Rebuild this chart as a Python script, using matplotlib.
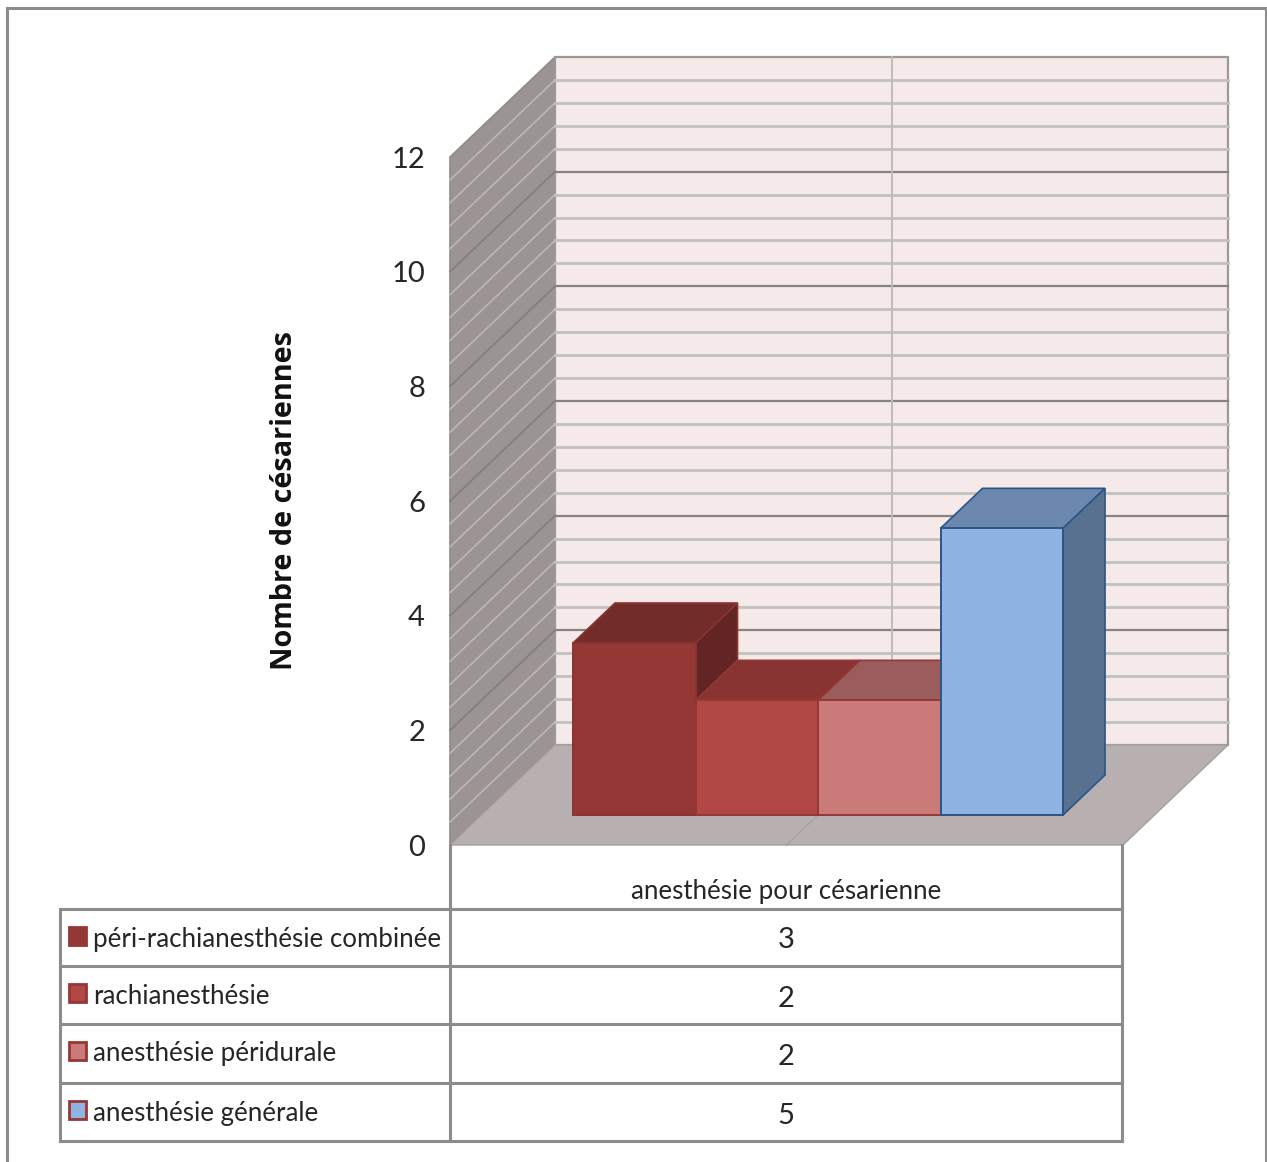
"""
Cesarean anaesthesia counts as a 3D-style clustered column with a data table.
"""

import matplotlib
matplotlib.use("Agg")
import matplotlib.pyplot as plt
from matplotlib.patches import Polygon, Rectangle

SERIES = ["péri-rachianesthésie combinée", "rachianesthésie",
          "anesthésie péridurale", "anesthésie générale"]
VALUES = [3, 2, 2, 5]
CATEGORY = "anesthésie pour césarienne"
Y_LABEL = "Nombre de césariennes"
Y_TICKS = [0, 2, 4, 6, 8, 10, 12]

FRONT = ["#953735", "#B14846", "#CA7A79", "#8FB3E3"]
TOP = ["#722C2A", "#883432", "#9B5D5C", "#6C88AE"]
SIDE = ["#632523", "#7A2E2C", "#8F5453", "#587191"]
EDGE = ["#8A3331", "#953735", "#953735", "#2A5587"]

W, H = 1267, 1162
TEXT = "#262626"
LINE = "#8C8C8C"
FONT = ["Lato", "DejaVu Sans"]
LABEL_SIZE = 18.6
DIGIT_SIZE = 21

# oblique projection: one depth unit moves right and up on the page
DEPTH_X = 105 / 122.5
DEPTH_Y = 100 / 57.33
FLOOR_W = 673 / 122.5
NEAR, FAR = 0.3, 0.7
BAR_W = 1.0


def project(x, y, d):
    return x + d * DEPTH_X, y + d * DEPTH_Y


def face(ax, pts, color, edge, lw, z):
    ax.add_patch(Polygon([project(*p) for p in pts], closed=True, facecolor=color,
                         edgecolor=edge, linewidth=lw, zorder=z,
                         joinstyle="miter", clip_on=False))


def draw_walls(ax):
    top = 12
    face(ax, [(0, 0, 0), (0, top, 0), (0, top, 1), (0, 0, 1)], "#9B9493", "#8C8C88", 1.2, 1)
    face(ax, [(0, 0, 1), (0, top, 1), (FLOOR_W, top, 1), (FLOOR_W, 0, 1)],
         "#F5E9E9", "#9A9A96", 1.6, 1)
    face(ax, [(0, 0, 0), (0, 0, 1), (FLOOR_W, 0, 1), (FLOOR_W, 0, 0)], "#B8B0B0", "#A5A09E", 1.0, 1)

    # five minor divisions per labelled step, on both walls
    for i in range(1, 30):
        y = i * 0.4
        major = i % 5 == 0
        x0, y0 = project(0, y, 0)
        x1, y1 = project(0, y, 1)
        x2, y2 = project(FLOOR_W, y, 1)
        ax.plot([x0, x1], [y0, y1], color="#7E807C" if major else "#B9B8B5",
                lw=1.2, zorder=2, clip_on=False)
        ax.plot([x1, x2], [y1, y2], color="#85847F" if major else "#C2C1BC",
                lw=1.6 if major else 2.0, zorder=2, clip_on=False)

    # category divider across the floor and up the back wall
    mid = FLOOR_W / 2
    x0, y0 = project(mid, 0, 0)
    x1, y1 = project(mid, 0, 1)
    x2, y2 = project(mid, 12, 1)
    ax.plot([x0, x1], [y0, y1], color="#A8A5A3", lw=1.2, zorder=2, clip_on=False)
    ax.plot([x1, x2], [y1, y2], color="#BDBCB9", lw=1.4, zorder=2, clip_on=False)


def draw_bars(ax):
    left = (573 - 450) / 122.5 - NEAR * DEPTH_X
    for i, val in enumerate(VALUES):
        x0 = left + i * BAR_W
        x1 = x0 + BAR_W
        z = 3 + i
        fx, fy = project(x0, 0, NEAR)
        ax.bar(fx, val, BAR_W, bottom=fy, align="edge", color=FRONT[i], edgecolor=EDGE[i],
               linewidth=1.4, zorder=z + 0.2, clip_on=False)
        face(ax, [(x0, val, NEAR), (x0, val, FAR), (x1, val, FAR), (x1, val, NEAR)],
             TOP[i], EDGE[i], 1.2, z)
        face(ax, [(x1, 0, NEAR), (x1, val, NEAR), (x1, val, FAR), (x1, 0, FAR)],
             SIDE[i], EDGE[i], 1.2, z)


def draw_table(pa):
    rows = [909, 966, 1024, 1083, 1141]
    for y in rows:
        pa.plot([60, 1122], [y, y], color=LINE, lw=2.2, solid_capstyle="butt")
    pa.plot([60, 60], [rows[0], rows[-1]], color=LINE, lw=2.2)
    pa.plot([450, 450], [845, rows[-1]], color=LINE, lw=2.2)
    pa.plot([1122, 1122], [845, rows[-1]], color=LINE, lw=2.2)

    pa.text(786, 891, CATEGORY, ha="center", va="center", fontsize=LABEL_SIZE,
            color=TEXT, family=FONT)
    key_y = [936, 993, 1051, 1110]
    val_y = [940, 999, 1057, 1116]
    for i, name in enumerate(SERIES):
        pa.add_patch(Rectangle((69, key_y[i] - 9), 17, 18, facecolor=FRONT[i],
                               edgecolor=FRONT[0], linewidth=2.0))
        pa.text(93, key_y[i] + 3, name, ha="left", va="center", fontsize=LABEL_SIZE,
                color=TEXT, family=FONT)
        pa.text(786, val_y[i], str(VALUES[i]), ha="center", va="center", fontsize=DIGIT_SIZE,
                color=TEXT, family=FONT)


def main():
    fig = plt.figure(figsize=(W / 100, H / 100), dpi=100)

    # page overlay in pixels for the outer frame and the data table
    pa = fig.add_axes([0, 0, 1, 1], zorder=2)
    pa.set_xlim(0, W)
    pa.set_ylim(H, 0)
    pa.axis("off")
    pa.plot([7, 7, 1266, 1266], [H, 8, 8, H], color=LINE, lw=2.2, solid_joinstyle="miter")

    # value axes: x counted in bar widths, y in cesareans
    ax = fig.add_axes([450 / W, (H - 845) / H, 778 / W, 787 / H], zorder=1)
    ax.set_xlim(0, 778 / 122.5)
    ax.set_ylim(0, 787 / 57.33)
    for s in ax.spines.values():
        s.set_visible(False)
    ax.patch.set_visible(False)
    ax.set_xticks([])
    ax.set_yticks(Y_TICKS)
    ax.tick_params(axis="y", length=0, pad=18, labelsize=DIGIT_SIZE, labelcolor=TEXT)
    for lab in ax.get_yticklabels():
        lab.set_family(FONT)
    ax.set_ylabel(Y_LABEL, fontsize=20.8, fontweight="bold", color="#111111", family="Open Sans")
    ax.yaxis.set_label_coords(-(450 - 299) / 778, (845 - 500) / 787)

    draw_walls(ax)
    draw_bars(ax)
    draw_table(pa)

    fig.savefig("out.png", dpi=100)


if __name__ == "__main__":
    main()
